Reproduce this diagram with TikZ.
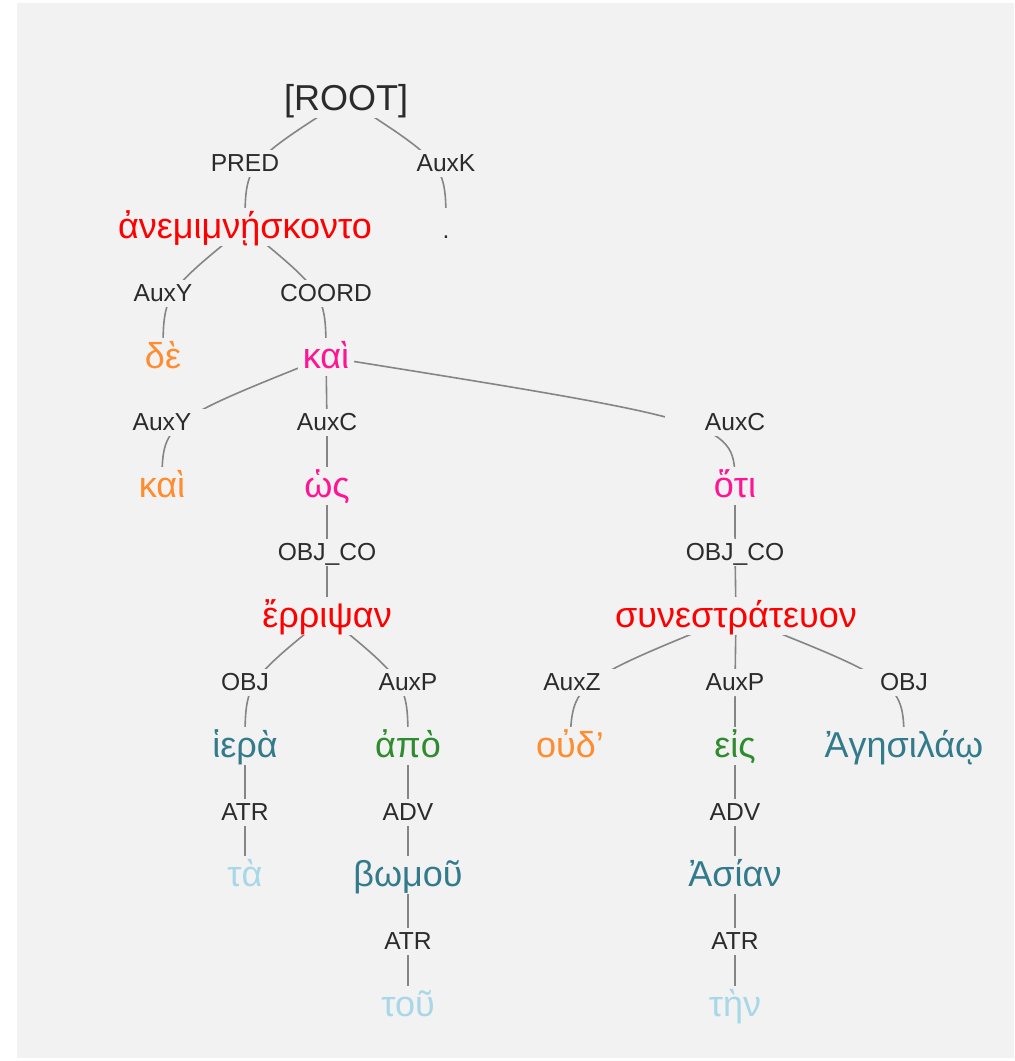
\documentclass[tikz,border=0pt]{standalone}
\usepackage{fontspec}
\setmainfont{Liberation Sans}

\definecolor{canvas}{HTML}{F2F2F2}
\definecolor{edge}{HTML}{858585}
\definecolor{labeltext}{HTML}{2B2B2B}
\definecolor{verb}{HTML}{FF0000}
\definecolor{conj}{HTML}{FF1493}
\definecolor{particle}{HTML}{FF8C2E}
\definecolor{noun}{HTML}{337B8C}
\definecolor{prep}{HTML}{2E8B2E}
\definecolor{article}{HTML}{A8D8E8}

\pgfdeclarelayer{canvaslayer}
\pgfdeclarelayer{edgelayer}
\pgfsetlayers{canvaslayer,edgelayer,main}

\tikzset{
  word/.style={font=\fontsize{36}{40}\selectfont, fill=canvas, anchor=base,
               inner xsep=5pt, inner ysep=0pt, text height=30pt, text depth=8pt},
  rel/.style={font=\fontsize{24.6}{28}\selectfont, text=labeltext, fill=canvas, anchor=base,
              minimum width=140pt, inner xsep=0pt, inner ysep=2pt, text height=19pt, text depth=4pt},
  link/.style={draw=edge, line width=1.6pt},
}

\begin{document}
\begin{tikzpicture}[x=1pt, y=-1pt]
    \useasboundingbox (0,0) rectangle (1015,1061);
    \begin{pgfonlayer}{canvaslayer}
      \fill[white] (0,0) rectangle (1015,1061);
      \fill[canvas] (17,3) rectangle (1014,1058);
    \end{pgfonlayer}

    % Root
    \node[word, text=labeltext] (root) at (346,110) {[ROOT]};

    % Level 1
    \node[rel] (pred) at (245,171) {PRED};
    \node[rel] (auxk) at (446,171) {AuxK};
    \node[word, text=verb] (anem) at (245,238) {ἀνεμιμνῄσκοντο};
    \node[word, text=labeltext, font=\fontsize{24.6}{28}\selectfont] (period) at (446,238) {.};

    % Level 2
    \node[rel] (auxy1) at (163,301) {AuxY};
    \node[rel] (coord) at (326,301) {COORD};
    \node[word, text=particle] (de) at (163,368) {δὲ};
    \node[word, text=conj] (kai1) at (326,368) {καὶ};

    % Level 3
    \node[rel] (auxy2) at (162,430) {AuxY};
    \node[rel] (auxc1) at (327,430) {AuxC};
    \node[rel] (auxc2) at (735,430) {AuxC};
    \node[word, text=particle] (kai2) at (162,497) {καὶ};
    \node[word, text=conj] (hos) at (327,497) {ὡς};
    \node[word, text=conj] (hoti) at (735,497) {ὅτι};

    % Level 4
    \node[rel] (objco1) at (327,560) {OBJ\_CO};
    \node[rel] (objco2) at (735,560) {OBJ\_CO};
    \node[word, text=verb] (erripsan) at (327,627) {ἔρριψαν};
    \node[word, text=verb] (synestr) at (736,627) {συνεστράτευον};

    % Level 5
    \node[rel] (obj1) at (245,690) {OBJ};
    \node[rel] (auxp1) at (408,690) {AuxP};
    \node[rel] (auxz) at (572,690) {AuxZ};
    \node[rel] (auxp2) at (735,690) {AuxP};
    \node[rel] (obj2) at (904,690) {OBJ};
    \node[word, text=noun] (hiera) at (245,757) {ἱερὰ};
    \node[word, text=prep] (apo) at (408,757) {ἀπὸ};
    \node[word, text=particle] (oud) at (570,757) {οὐδ’};
    \node[word, text=prep] (eis) at (735,757) {εἰς};
    \node[word, text=noun] (agesil) at (904,757) {Ἀγησιλάῳ};

    % Level 6
    \node[rel] (atr1) at (245,820) {ATR};
    \node[rel] (adv1) at (408,820) {ADV};
    \node[rel] (adv2) at (735,820) {ADV};
    \node[word, text=article] (ta) at (245,886) {τὰ};
    \node[word, text=noun] (bomou) at (408,886) {βωμοῦ};
    \node[word, text=noun] (asian) at (735,886) {Ἀσίαν};

    % Level 7
    \node[rel] (atr2) at (408,949) {ATR};
    \node[rel] (atr3) at (735,949) {ATR};
    \node[word, text=article] (tou) at (408,1016) {τοῦ};
    \node[word, text=article] (ten) at (735,1016) {τὴν};

    % Dependency links, behind the labels
    \begin{pgfonlayer}{edgelayer}
      \draw[link] (root.center) .. controls (pred.center) and (pred.center) .. (anem.center);
      \draw[link] (root.center) .. controls (auxk.center) and (auxk.center) .. (period.center);
      \draw[link] (anem.center) .. controls (auxy1.center) and (auxy1.center) .. (de.center);
      \draw[link] (anem.center) .. controls (coord.center) and (coord.center) .. (kai1.center);
      \draw[link] (kai1.center) .. controls (auxy2.center) and (auxy2.center) .. (kai2.center);
      \draw[link] (kai1.center) .. controls (auxc1.center) and (auxc1.center) .. (hos.center);
      \draw[link] (kai1.center) .. controls (auxc2.center) and (auxc2.center) .. (hoti.center);
      \draw[link] (hos.center) .. controls (objco1.center) and (objco1.center) .. (erripsan.center);
      \draw[link] (hoti.center) .. controls (objco2.center) and (objco2.center) .. (synestr.center);
      \draw[link] (erripsan.center) .. controls (obj1.center) and (obj1.center) .. (hiera.center);
      \draw[link] (erripsan.center) .. controls (auxp1.center) and (auxp1.center) .. (apo.center);
      \draw[link] (hiera.center) .. controls (atr1.center) and (atr1.center) .. (ta.center);
      \draw[link] (apo.center) .. controls (adv1.center) and (adv1.center) .. (bomou.center);
      \draw[link] (bomou.center) .. controls (atr2.center) and (atr2.center) .. (tou.center);
      \draw[link] (synestr.center) .. controls (auxz.center) and (auxz.center) .. (oud.center);
      \draw[link] (synestr.center) .. controls (auxp2.center) and (auxp2.center) .. (eis.center);
      \draw[link] (synestr.center) .. controls (obj2.center) and (obj2.center) .. (agesil.center);
      \draw[link] (eis.center) .. controls (adv2.center) and (adv2.center) .. (asian.center);
      \draw[link] (asian.center) .. controls (atr3.center) and (atr3.center) .. (ten.center);
    \end{pgfonlayer}

\end{tikzpicture}
\end{document}
